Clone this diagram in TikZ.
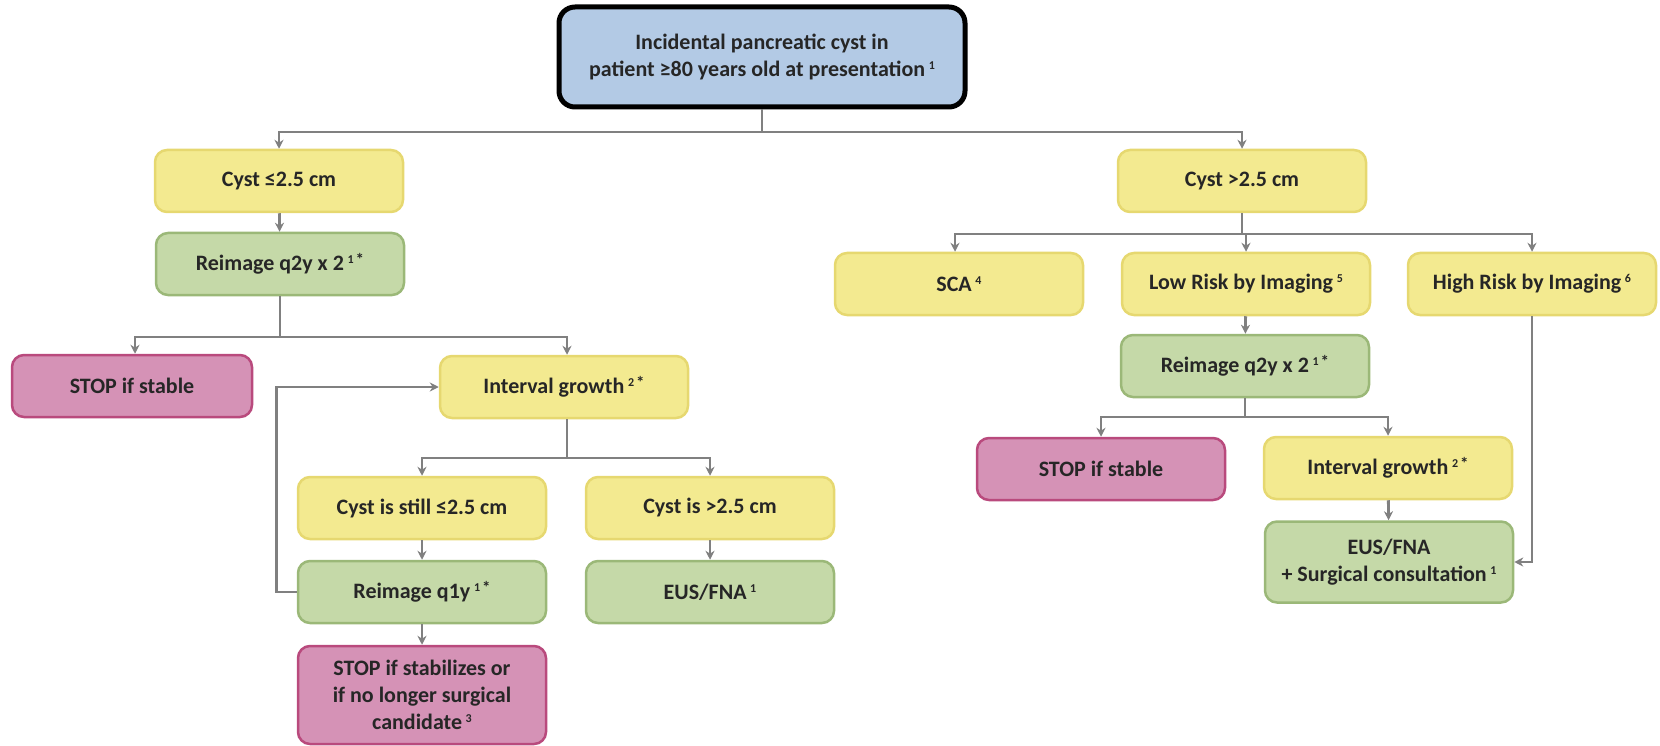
\documentclass[tikz,border=0pt]{standalone}
\usepackage{fontspec}
\setmainfont{Carlito}
\usetikzlibrary{arrows.meta}
\definecolor{txtc}{HTML}{262626}
\definecolor{bluef}{HTML}{B3CAE5}
\definecolor{yelf}{HTML}{F3EA90}
\definecolor{yeld}{HTML}{E6D870}
\definecolor{grnf}{HTML}{C5D9A8}
\definecolor{grnd}{HTML}{9BB878}
\definecolor{pnkf}{HTML}{D592B6}
\definecolor{pnkd}{HTML}{B94A7D}
\definecolor{linec}{HTML}{808080}
\newcommand{\sps}[1]{\,\raisebox{7pt}{\fontsize{12}{12}\selectfont #1}}
\newcommand{\spst}[1]{\,\raisebox{7pt}{\fontsize{12}{12}\selectfont #1\,{\fontsize{17}{17}\selectfont\raisebox{-2pt}{*}}}}
\tikzset{
  basebox/.style={rounded corners=12pt, line width=2.5pt, minimum height=62pt,
    minimum width=248pt, align=center, inner sep=0pt, text=txtc,
    font=\fontsize{22}{27}\selectfont\bfseries},
  ybox/.style={basebox, draw=yeld, fill=yelf},
  gbox/.style={basebox, draw=grnd, fill=grnf},
  pbox/.style={basebox, draw=pnkd, fill=pnkf},
  topbox/.style={basebox, draw=black, fill=bluef, line width=5pt, rounded corners=16pt,
    minimum width=406pt, minimum height=100pt},
  conn/.style={draw=linec, line width=2.8pt, -{Stealth[length=9pt,width=9pt]}},
  plain/.style={draw=linec, line width=2.8pt}
}
\begin{document}
\begin{tikzpicture}[x=1pt,y=-1pt]
\useasboundingbox (0,0) rectangle (1660,746);
% nodes
\node[topbox] (top) at (762,57) {Incidental pancreatic cyst in\\patient ≥80 years old at presentation\sps{1}};
\node[ybox] (c1) at (279,181) {Cyst ≤2.5 cm};
\node[gbox] (r1) at (280,264) {Reimage q2y x 2\spst{1}};
\node[pbox, minimum width=240pt] (s1) at (132,386) {STOP if stable};
\node[ybox] (g1) at (564,387) {Interval growth\spst{2}};
\node[ybox] (c3) at (422,508) {Cyst is still ≤2.5 cm};
\node[ybox] (c4) at (710,508) {Cyst is >2.5 cm};
\node[gbox] (r3) at (422,592) {Reimage q1y\spst{1}};
\node[gbox] (e1) at (710,592) {EUS/FNA\sps{1}};
\node[pbox, minimum height=98pt] (s3) at (422,695) {STOP if stabilizes or\\if no longer surgical\\candidate\sps{3}};
\node[ybox] (c2) at (1242,181) {Cyst >2.5 cm};
\node[ybox] (sca) at (959,284) {SCA\sps{4}};
\node[ybox] (low) at (1246,284) {Low Risk by Imaging\sps{5}};
\node[ybox] (high) at (1532,284) {High Risk by Imaging\sps{6}};
\node[gbox] (r2) at (1245,366) {Reimage q2y x 2\spst{1}};
\node[pbox] (s2) at (1101,469) {STOP if stable};
\node[ybox] (g2) at (1388,468) {Interval growth\spst{2}};
\node[gbox, minimum height=81pt] (e2) at (1389,562) {EUS/FNA\\+ Surgical consultation\sps{1}};
% junction levels
\coordinate (y0) at (0,132);
\coordinate (y1) at (0,337);
\coordinate (y2) at (0,458);
\coordinate (y3) at (0,234);
\coordinate (y4) at (0,417);
% connectors
\draw[plain] (top.south) -- (top.south |- y0);
\draw[conn] (top.south |- y0) -| (c1.north);
\draw[conn] (top.south |- y0) -| (c2.north);
\draw[conn] (c1) -- (r1);
\draw[plain] (r1.south) -- (r1.south |- y1);
\draw[conn] (r1.south |- y1) -| ([xshift=3pt]s1.north);
\draw[conn] (r1.south |- y1) -| ([xshift=3pt]g1.north);
\draw[conn] (r3.west) -- ++(-20,0) |- (g1.west);
\draw[plain] ([xshift=3pt]g1.south) -- ([xshift=3pt]g1.south |- y2);
\draw[conn] ([xshift=3pt]g1.south |- y2) -| (c3.north);
\draw[conn] ([xshift=3pt]g1.south |- y2) -| (c4.north);
\draw[conn] (c3) -- (r3);
\draw[conn] (r3) -- (s3);
\draw[conn] (c4) -- (e1);
\draw[plain] (c2.south) -- (c2.south |- y3);
\draw[conn] (c2.south |- y3) -| ([xshift=-4pt]sca.north);
\draw[conn] (c2.south |- y3) -| (low.north);
\draw[conn] (c2.south |- y3) -| (high.north);
\draw[conn] (low) -- (r2);
\draw[plain] (r2.south) -- (r2.south |- y4);
\draw[conn] (r2.south |- y4) -| (s2.north);
\draw[conn] (r2.south |- y4) -| (g2.north);
\draw[conn] (g2) -- (e2);
\draw[conn] (high.south) |- (e2.east);
\end{tikzpicture}
\end{document}
